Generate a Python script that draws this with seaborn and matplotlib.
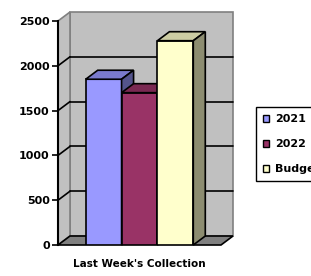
import pandas as pd
import matplotlib
matplotlib.use("Agg")
import matplotlib.pyplot as plt
import seaborn as sns
from matplotlib.patches import Polygon, Patch, Rectangle

categories = ["Last Week's Collection"]
series = ["2021", "2022", "Budget"]
values = [1850, 1700, 2280]
colors = ["#9999FF", "#993366", "#FFFFCC"]
y_ticks = [0, 500, 1000, 1500, 2000, 2500]

df = pd.DataFrame({
    "period": categories * len(series),
    "series": series,
    "value": values,
})

sns.set_style("white")
plt.rcParams["font.family"] = ["DejaVu Sans"]
plt.rcParams["text.color"] = "black"
plt.rcParams["ytick.color"] = "black"
plt.rcParams["axes.labelcolor"] = "black"

W, H = 311, 276
fig = plt.figure(figsize=(W / 100, H / 100), dpi=100)
# front plane of the 3d box, in pixels
left, right, bottom, top = 58, 221, 245, 21
ax = fig.add_axes([left / W, 1 - bottom / H, (right - left) / W, (bottom - top) / H])
ax.set_facecolor("none")

sns.barplot(data=df, x="period", y="value", hue="series", palette=colors,
            saturation=1, width=0.66, edgecolor="black", linewidth=1.2, ax=ax,
            legend=False, zorder=5)
bars = sorted([p for p in ax.patches if isinstance(p, Rectangle) and p.get_height() > 0],
              key=lambda p: p.get_x())

ymax = y_ticks[-1]
ax.set_xlim(-0.5, 0.5)
ax.set_ylim(0, ymax)

# depth of the box, converted from pixels into data units
dx = 12 / (right - left) * 1.0
dy = 9 / (bottom - top) * ymax

wall = "#C0C0C0"
# back wall, left wall and floor
ax.add_patch(Polygon([(-0.5 + dx, dy), (0.5 + dx, dy), (0.5 + dx, ymax + dy), (-0.5 + dx, ymax + dy)],
                     closed=True, facecolor=wall, edgecolor="#808080", lw=1.2, zorder=0.5, clip_on=False))
ax.add_patch(Polygon([(-0.5, 0), (-0.5 + dx, dy), (-0.5 + dx, ymax + dy), (-0.5, ymax)],
                     closed=True, facecolor=wall, edgecolor="#808080", lw=1.2, zorder=0.6, clip_on=False))
for t in y_ticks[1:-1]:
    ax.plot([-0.5 + dx, 0.5 + dx], [t + dy, t + dy], color="black", lw=1.2, zorder=0.8, clip_on=False)
    ax.plot([-0.5, -0.5 + dx], [t, t + dy], color="black", lw=1.2, zorder=0.8, clip_on=False)
ax.add_patch(Polygon([(-0.5, 0), (0.5, 0), (0.5 + dx, dy), (-0.5 + dx, dy)],
                     closed=True, facecolor="#808080", edgecolor="black", lw=1.2, zorder=1, clip_on=False))

# tops and sides of the bars
for i, b in enumerate(bars):
    x0, x1, h = b.get_x(), b.get_x() + b.get_width(), b.get_height()
    rgb = matplotlib.colors.to_rgb(colors[i])
    top_c = tuple(c * 0.8 for c in rgb)
    side_c = tuple(c * 0.55 for c in rgb)
    z = 5 + i * 0.3
    b.set_zorder(z)
    ax.add_patch(Polygon([(x0, h), (x1, h), (x1 + dx, h + dy), (x0 + dx, h + dy)], closed=True,
                         facecolor=top_c, edgecolor="black", lw=1.2, zorder=z + 0.1, clip_on=False))
    ax.add_patch(Polygon([(x1, 0), (x1, h), (x1 + dx, h + dy), (x1 + dx, dy)], closed=True,
                         facecolor=side_c, edgecolor="black", lw=1.2, zorder=z + 0.1, clip_on=False))

for s in ["top", "right", "bottom"]:
    ax.spines[s].set_visible(False)
ax.spines["left"].set_color("black")
ax.spines["left"].set_linewidth(1.5)
ax.spines["left"].set_zorder(2)
ax.set_yticks(y_ticks)
ax.set_yticklabels([str(t) for t in y_ticks], fontsize=8, fontweight="bold", color="black")
ax.tick_params(axis="y", direction="out", length=4, width=1.2, color="black", pad=2, left=True)
ax.set_xticks([])
ax.set_ylabel("")
ax.set_xlabel("Last Week's Collection", fontsize=7.5, fontweight="bold", labelpad=10, color="black")

# legend runs off the right edge, as in the original
handles = [Patch(facecolor=c, edgecolor="black", lw=1) for c in colors]
fig.legend(handles, series, loc="upper left", bbox_to_anchor=(256 / W, 1 - 107 / H),
           bbox_transform=fig.transFigure, borderaxespad=0, frameon=True, fancybox=False,
           edgecolor="black", framealpha=1, handlelength=0.55, handleheight=0.55,
           handletextpad=0.5, labelspacing=1.35, borderpad=0.65,
           prop={"size": 8, "weight": "bold"})

fig.savefig("out.png", dpi=100, facecolor="white")
